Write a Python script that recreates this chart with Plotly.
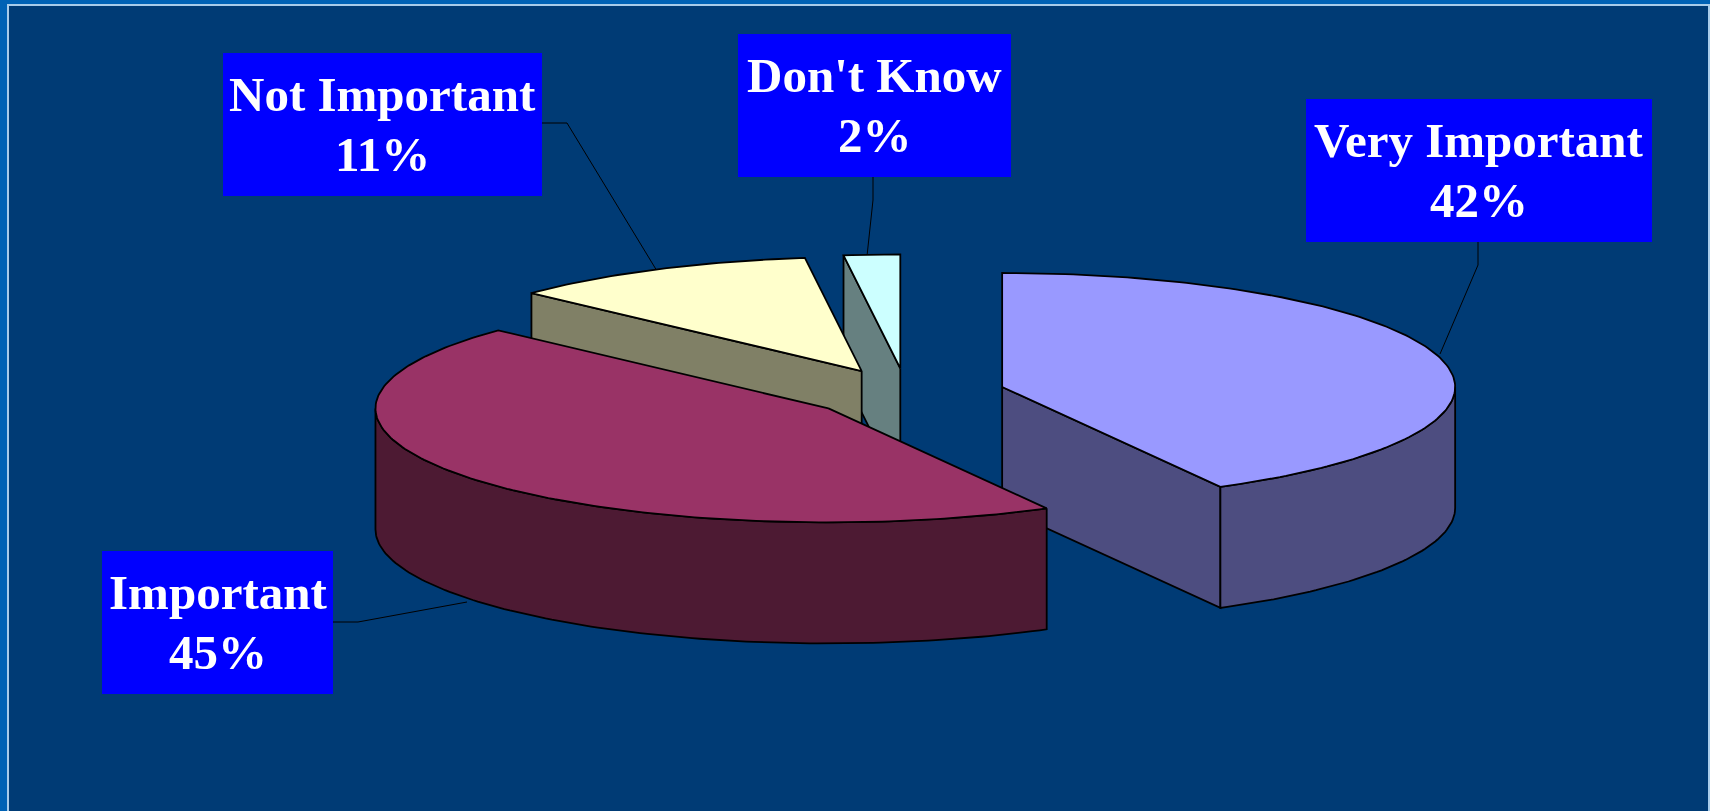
import math
import plotly.graph_objects as go

# ---- data ----
CATEGORIES = ["Very Important", "Important", "Not Important", "Don't Know"]
VALUES = [42, 45, 11, 2]

# ---- styling ----
TOP_COLORS = ["#9999FF", "#993366", "#FFFFCC", "#CCFFFF"]
SIDE_COLORS = ["#4D4D80", "#4D1A33", "#808066", "#668080"]
DRAW_ORDER = [3, 2, 0, 1]
PANEL = "#003B75"
OUTER = "#0062B5"
FRAME = "#A8CCEA"
BOX = "#0000FF"
OUTLINE = "black"

# ---- pie projection (pixels) ----
W, H = 1710, 811
CX, CY = 906.5, 393.2
RX, RY = 453.0, 114.0
DEPTH = 121.0
EXPLODE = 0.218
ARC_STEP = 1.0

# ---- label boxes: x0, y0, x1, y1 ----
BOXES = [(1306, 99, 1652, 242), (102, 551, 333, 694), (223, 53, 542, 196), (738, 34, 1011, 177)]
LEADERS = [
    [(1478, 242), (1478, 265), (1440, 354)],
    [(333, 622), (358, 622), (467, 602)],
    [(542, 123), (567, 123), (657, 271)],
    [(873, 177), (873, 200), (867, 256)],
]


def pt(center, angle, dy=0.0):
    a = math.radians(angle)
    return center[0] + RX * math.sin(a), center[1] - RY * math.cos(a) + dy


def arc(center, a0, a1, dy=0.0):
    n = max(2, int(abs(a1 - a0) / ARC_STEP) + 1)
    return [pt(center, a0 + (a1 - a0) * i / (n - 1), dy) for i in range(n)]


def poly(points, color):
    xs = [p[0] for p in points] + [points[0][0]]
    ys = [p[1] for p in points] + [points[0][1]]
    return go.Scatter(x=xs, y=ys, mode="lines", fill="toself", fillcolor=color,
                      line=dict(color=OUTLINE, width=1.8), hoverinfo="skip", showlegend=False)


total = sum(VALUES)
spans = []
start = 0.0
for v in VALUES:
    end = start + v / total * 360.0
    spans.append((start, end))
    start = end

fig = go.Figure()
for i in DRAW_ORDER:
    a0, a1 = spans[i]
    mid = math.radians((a0 + a1) / 2)
    c = (CX + EXPLODE * RX * math.sin(mid), CY - EXPLODE * RY * math.cos(mid))
    # flat cut faces that look towards the viewer (outward normal points down the screen)
    for edge, normal in ((a0, a0 - 90), (a1, a1 + 90)):
        if -math.cos(math.radians(normal)) > 1e-6:
            p = pt(c, edge)
            fig.add_trace(poly([c, p, (p[0], p[1] + DEPTH), (c[0], c[1] + DEPTH)], SIDE_COLORS[i]))
    # outer rim on the near half
    lo, hi = max(a0, 90), min(a1, 270)
    if hi > lo:
        fig.add_trace(poly(arc(c, lo, hi) + arc(c, hi, lo, DEPTH), SIDE_COLORS[i]))
    # top surface
    fig.add_trace(poly([c] + arc(c, a0, a1), TOP_COLORS[i]))

shapes = [dict(type="rect", xref="x", yref="y", x0=8, y0=5, x1=1709, y1=830,
               fillcolor=PANEL, line=dict(color=FRAME, width=2), layer="below")]
annotations = []
for name, v, b, lead in zip(CATEGORIES, VALUES, BOXES, LEADERS):
    shapes.append(dict(type="rect", xref="x", yref="y", x0=b[0], y0=b[1], x1=b[2], y1=b[3],
                       fillcolor=BOX, line=dict(width=0), layer="below"))
    path = "M " + " L ".join(f"{x} {y}" for x, y in lead)
    shapes.append(dict(type="path", xref="x", yref="y", path=path,
                       line=dict(color=OUTLINE, width=1), layer="below"))
    xm, ym = (b[0] + b[2]) / 2, (b[1] + b[3]) / 2
    for text, off in ((name, -30), (f"{v}%", 30)):
        annotations.append(dict(x=xm, y=ym + off, xref="x", yref="y", text=f"<b>{text}</b>",
                                showarrow=False, xanchor="center", yanchor="middle",
                                font=dict(family="Liberation Serif", size=49, color="white")))

fig.update_layout(
    width=W, height=H, margin=dict(l=0, r=0, t=0, b=0),
    paper_bgcolor=OUTER, plot_bgcolor=OUTER, showlegend=False,
    xaxis=dict(range=[0, W], visible=False, fixedrange=True),
    yaxis=dict(range=[H, 0], visible=False, fixedrange=True),
    shapes=shapes, annotations=annotations,
)
fig.write_html("out.html", config=dict(displayModeBar=False),
               post_script="document.body.style.margin='0';document.body.style.overflow='hidden';")
